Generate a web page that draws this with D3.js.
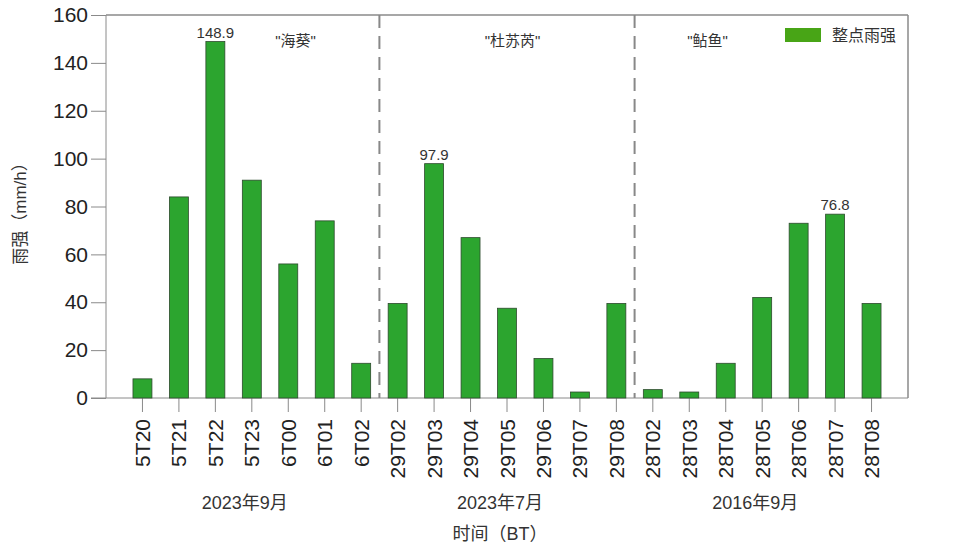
<!DOCTYPE html>
<html>
<head>
<meta charset="utf-8">
<script src="https://cdn.jsdelivr.net/npm/d3@7"></script>
<style>
  body { margin: 0; background: #fff; }
  svg { display: block; font-family: "Liberation Sans", Arial, "Noto Sans CJK SC", sans-serif; }
  .tick text { fill: #222; }
</style>
</head>
<body>
<svg width="963" height="547"></svg>
<script>
// hourly rain rate at the stations, three typhoons side by side
var categories = ["5T20","5T21","5T22","5T23","6T00","6T01","6T02",
                  "29T02","29T03","29T04","29T05","29T06","29T07","29T08",
                  "28T02","28T03","28T04","28T05","28T06","28T07","28T08"]
var rainfall = [8, 84, 148.9, 91, 56, 74, 14.5,
                39.5, 97.9, 67, 37.5, 16.5, 2.5, 39.5,
                3.5, 2.5, 14.5, 42, 73, 76.8, 39.5]
var groups = ["2023年9月", "2023年7月", "2016年9月"]
var storms = ["\"海葵\"", "\"杜苏芮\"", "\"鲇鱼\""]
var stormAt = [4.2, 10.15, 15.5]   // position in bar slots
var labelled = ["5T22", "29T03", "28T07"]
var yTicks = [0, 20, 40, 60, 80, 100, 120, 140, 160]
var groupSize = 7

var svg = d3.select("svg")
var margin = {top: 15, right: 55, bottom: 149, left: 106}
var width = 963 - margin.left - margin.right
var height = 547 - margin.top - margin.bottom
var frame = "#8a8a8a"

var g = svg.append("g")
    .attr("transform", `translate(${margin.left},${margin.top})`)

var x = d3.scaleBand()
    .domain(categories)
    .range([0, width])
    .paddingInner(0.48)
    .paddingOuter(0.74)

var y = d3.scaleLinear()
    .domain([0, 160])
    .range([height, 0])

var step = x.step()
var cx = function(i) { return x(categories[0]) + x.bandwidth() / 2 + i * step }

// y axis
var yAxis = g.append("g")
    .call(d3.axisLeft(y).tickValues(yTicks).tickSize(15).tickPadding(3))
yAxis.select(".domain").remove()
yAxis.selectAll(".tick line").attr("stroke", frame)
yAxis.selectAll(".tick text").style("font-size", "21px")

// x axis
var xAxis = g.append("g")
    .attr("transform", `translate(0,${height})`)
    .call(d3.axisBottom(x).tickSize(14))
xAxis.select(".domain").remove()
xAxis.selectAll(".tick line").attr("stroke", frame)
xAxis.selectAll(".tick text")
    .style("font-size", "21px")
    .attr("transform", "rotate(-90)")
    .attr("text-anchor", "end")
    .attr("x", -21)
    .attr("y", 0)
    .attr("dy", "0.36em")

// frame
g.append("line").attr("x1", -15).attr("x2", width).attr("y1", height).attr("y2", height).attr("stroke", frame)
g.append("line").attr("x1", 0).attr("x2", 0).attr("y1", 0).attr("y2", height).attr("stroke", frame)
g.append("line").attr("x1", 0).attr("x2", width).attr("y1", 0).attr("y2", 0).attr("stroke", frame).attr("stroke-width", 1.5)
g.append("line").attr("x1", width).attr("x2", width).attr("y1", 0).attr("y2", height).attr("stroke", frame).attr("stroke-width", 1.5)

// dashed separators between typhoons
for (var k = 1; k < groups.length; k++) {
    var sx = cx(k * groupSize - 0.5)
    g.append("line")
    .attr("x1", sx).attr("x2", sx)
    .attr("y1", 0).attr("y2", height)
    .attr("stroke", "#888")
    .attr("stroke-width", 2)
    .attr("stroke-dasharray", "13,8")
}

// bars
g.selectAll(".bar")
    .data(rainfall)
    .enter()
    .append("rect")
    .attr("class", "bar")
    .attr("x", (d, i) => x(categories[i]))
    .attr("y", d => y(d))
    .attr("width", x.bandwidth())
    .attr("height", d => height - y(d))
    .style("fill", "#2ca52f")
    .style("stroke", "#2d4a2d")
    .style("stroke-width", 0.8)

// peak values
labelled.forEach(function(c) {
    var v = rainfall[categories.indexOf(c)]
    g.append("text")
    .attr("x", x(c) + x.bandwidth() / 2)
    .attr("y", y(v) - 4)
    .attr("text-anchor", "middle")
    .style("font-size", "15px")
    .style("fill", "#333")
    .text(v.toFixed(1))
})

// typhoon names
storms.forEach(function(s, i) {
    g.append("text")
    .attr("x", cx(stormAt[i]))
    .attr("y", 31)
    .attr("text-anchor", "middle")
    .style("font-size", "15px")
    .style("fill", "#333")
    .text(s)
})

// month labels under each group
groups.forEach(function(m, i) {
    g.append("text")
    .attr("x", cx(i * groupSize + (groupSize - 1) / 2) - 7)
    .attr("y", height + 111)
    .attr("text-anchor", "middle")
    .style("font-size", "18px")
    .style("fill", "#333")
    .text(m)
})

// axis titles
g.append("text")
    .attr("x", width / 2 - 7)
    .attr("y", height + 142)
    .attr("text-anchor", "middle")
    .style("font-size", "18px")
    .style("fill", "#333")
    .text("时间（BT）")

g.append("text")
    .attr("transform", `translate(${-80},${height / 2 + 3}) rotate(-90)`)
    .attr("text-anchor", "middle")
    .style("font-size", "17px")
    .style("fill", "#333")
    .text("雨强（mm/h）")

// legend
var legend = g.append("g")
    .attr("transform", `translate(${width - 123},13)`)
legend.append("rect")
    .attr("width", 36)
    .attr("height", 14)
    .style("fill", "#48a516")
legend.append("text")
    .attr("x", 47)
    .attr("y", 13)
    .style("font-size", "16px")
    .style("fill", "#333")
    .text("整点雨强")
</script>
</body>
</html>
